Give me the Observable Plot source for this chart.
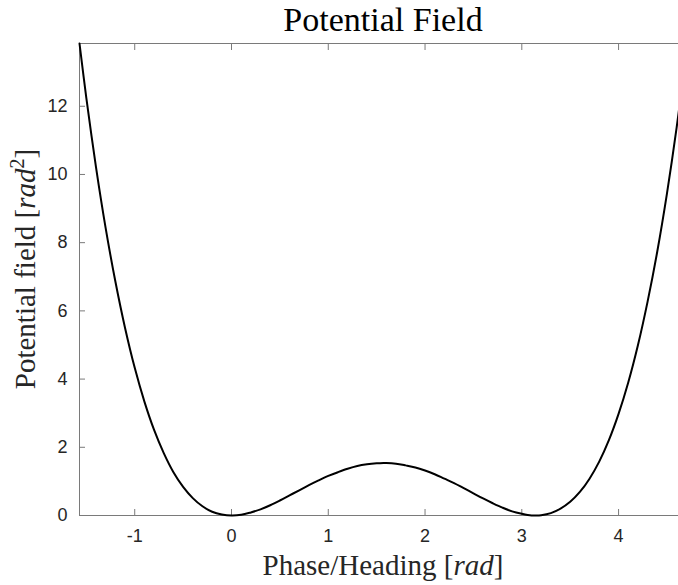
<!DOCTYPE html>
<html>
<head>
<meta charset="utf-8">
<script src="https://cdn.jsdelivr.net/npm/d3@7"></script>
<script src="https://cdn.jsdelivr.net/npm/@observablehq/plot@0.6"></script>
<style>
  html, body { margin: 0; padding: 0; background: #fff; overflow: hidden; }
  #chart { width: 678px; height: 585px; overflow: hidden; position: relative; }
  #chart svg { max-width: none !important; display: block; }
</style>
</head>
<body>
<div id="chart"></div>
<script>
// Phase/Heading values (rad)
const phase = [-1.5708, -1.5, -1.4, -1.3, -1.2, -1.1, -1.0, -0.9, -0.8, -0.7, -0.6, -0.5, -0.4, -0.3, -0.2, -0.1,
  0, 0.1, 0.2, 0.3, 0.4, 0.5, 0.6, 0.7, 0.8, 0.9, 1.0, 1.1, 1.2, 1.3, 1.4, 1.5, 1.5708, 1.6, 1.7, 1.8, 1.9,
  2.0, 2.1, 2.2, 2.3, 2.4, 2.5, 2.6, 2.7, 2.8, 2.9, 3.0, 3.1, 3.1416, 3.2, 3.3, 3.4, 3.5, 3.6, 3.7, 3.8, 3.9,
  4.0, 4.1, 4.2, 4.3, 4.4, 4.5, 4.6, 4.7124];
// Potential field values (rad^2)
const potential = [13.84, 12.24, 10.21, 8.42, 6.86, 5.50, 4.33, 3.34, 2.51, 1.83, 1.27, 0.84, 0.51, 0.27, 0.11, 0.03,
  0, 0.02, 0.09, 0.18, 0.30, 0.44, 0.59, 0.74, 0.89, 1.03, 1.16, 1.27, 1.37, 1.45, 1.50, 1.53, 1.54, 1.54, 1.52, 1.47, 1.41,
  1.32, 1.21, 1.08, 0.95, 0.80, 0.65, 0.50, 0.36, 0.23, 0.12, 0.05, 0.00, 0, 0.01, 0.07, 0.20, 0.40, 0.69, 1.08, 1.58, 2.21,
  2.98, 3.90, 4.99, 6.27, 7.74, 9.44, 11.37, 13.84];
const xTicks = [-1, 0, 1, 2, 3, 4];
const yTicks = [0, 2, 4, 6, 8, 10, 12];
const xDomain = [-1.5708, 4.7124];
const yDomain = [0, 13.84];

const data = phase.map((x, i) => ({x, v: potential[i]}));

const axisColor = "#7a7a7a";
const labelColor = "#262626";
const fmt = d => String(d);

const plot = Plot.plot({
  width: 690,
  height: 585,
  marginLeft: 79,
  marginRight: 3,
  marginTop: 43,
  marginBottom: 70,
  style: {background: "#fff", fontFamily: "'Liberation Sans', Arial, sans-serif", fontSize: "18px", color: labelColor, maxWidth: "none"},
  x: {domain: xDomain},
  y: {domain: yDomain},
  marks: [
    Plot.frame({stroke: axisColor, strokeWidth: 1}),
    // inward ticks
    Plot.axisX(xTicks, {anchor: "bottom", tickSize: 6, dy: -6, text: null, stroke: axisColor, label: null}),
    Plot.axisX(xTicks, {anchor: "top", tickSize: 6, dy: 6, text: null, stroke: axisColor, label: null}),
    Plot.axisY(yTicks, {anchor: "left", tickSize: 6, dx: 6, text: null, stroke: axisColor, label: null}),
    // tick labels
    Plot.axisX(xTicks, {anchor: "bottom", tickSize: 0, tickPadding: 14, label: null, fill: labelColor, fontSize: 18, tickFormat: fmt}),
    Plot.axisY(yTicks, {anchor: "left", tickSize: 0, tickPadding: 12, label: null, fill: labelColor, fontSize: 18, tickFormat: fmt}),
    Plot.line(data, {x: "x", y: "v", stroke: "#000", strokeWidth: 2, curve: "catmull-rom"})
  ]
});

document.getElementById("chart").appendChild(plot);

const svg = d3.select(plot);
const serif = "'Liberation Serif', 'Times New Roman', serif";
svg.append("text")
  .attr("x", 383).attr("y", 31)
  .attr("text-anchor", "middle")
  .attr("font-family", serif).attr("font-size", 34).attr("fill", "#000")
  .text("Potential Field");

const xl = svg.append("text")
  .attr("x", 383).attr("y", 575)
  .attr("text-anchor", "middle")
  .attr("font-family", serif).attr("font-size", 29).attr("fill", labelColor);
xl.append("tspan").text("Phase/Heading [");
xl.append("tspan").attr("font-style", "italic").text("rad");
xl.append("tspan").text("]");

const yl = svg.append("text")
  .attr("transform", "translate(35,269) rotate(-90)")
  .attr("text-anchor", "middle")
  .attr("font-family", serif).attr("font-size", 29).attr("fill", labelColor);
yl.append("tspan").text("Potential field [");
yl.append("tspan").attr("font-style", "italic").text("rad");
yl.append("tspan").attr("font-size", 20).attr("dy", -11).text("2");
yl.append("tspan").attr("dy", 11).text("]");
</script>
</body>
</html>
